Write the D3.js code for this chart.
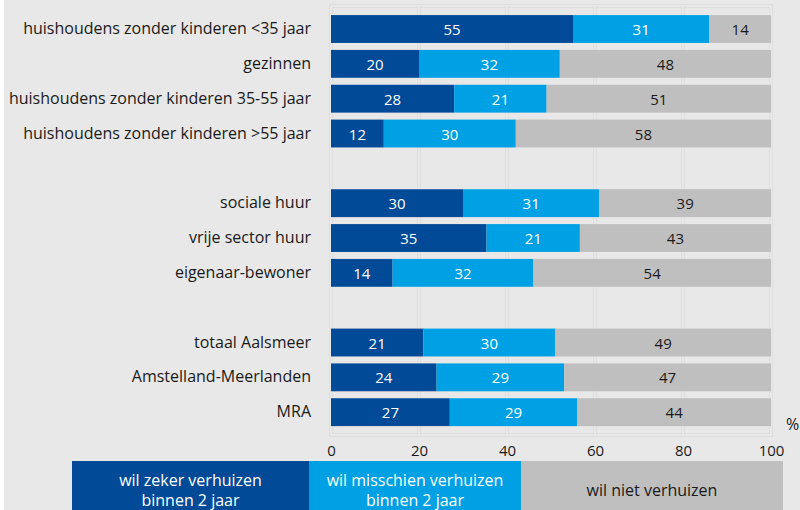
<!DOCTYPE html>
<html><head><meta charset="utf-8">
<script src="https://cdn.jsdelivr.net/npm/d3@7"></script>
<style>
html,body{margin:0;padding:0;background:#fff;}
svg{display:block;}
</style></head>
<body>
<svg id="chart" width="800" height="510"></svg>
<script>
const categories = [
  "huishoudens zonder kinderen <35 jaar",
  "gezinnen",
  "huishoudens zonder kinderen 35-55 jaar",
  "huishoudens zonder kinderen >55 jaar",
  "",
  "sociale huur",
  "vrije sector huur",
  "eigenaar-bewoner",
  " ",
  "totaal Aalsmeer",
  "Amstelland-Meerlanden",
  "MRA"
];
const zeker =     [55, 20, 28, 12, null, 30, 35, 14, null, 21, 24, 27];
const misschien = [31, 32, 21, 30, null, 31, 21, 32, null, 30, 29, 29];
const niet =      [14, 48, 51, 58, null, 39, 43, 54, null, 49, 47, 44];
const seriesNames = ["wil zeker verhuizen\nbinnen 2 jaar", "wil misschien verhuizen\nbinnen 2 jaar", "wil niet verhuizen"];
const ticks = [0, 20, 40, 60, 80, 100];
const colors = ["#004a98", "#00a1e4", "#bfbfbf"];
const textColors = ["#ffffff", "#ffffff", "#1a1a1a"];

const svg = d3.select("#chart");
const font = "'Open Sans', sans-serif";
svg.append("rect").attr("x", 4).attr("y", 0).attr("width", 796).attr("height", 510).attr("fill", "#e8e8e8");

const x = d3.scaleLinear().domain([0, 100]).range([331, 771]);
const y = d3.scaleBand().domain(categories).range([11.6, 429.6]).paddingInner(0.2).paddingOuter(0.1);
const frameTop = 6, frameBottom = 435;

// frame & gridlines
const grid = svg.append("g");
grid.append("rect").attr("x", x(0)).attr("y", frameTop).attr("width", x(100) - x(0)).attr("height", frameBottom - frameTop)
  .attr("fill", "none").attr("stroke", "#d6d6d6").attr("stroke-width", 3);
grid.append("rect").attr("x", x(0)).attr("y", frameTop).attr("width", x(100) - x(0)).attr("height", frameBottom - frameTop)
  .attr("fill", "none").attr("stroke", "#f3f3f3").attr("stroke-width", 1.2);
ticks.slice(1, -1).forEach(t => {
  grid.append("line").attr("x1", x(t)).attr("x2", x(t)).attr("y1", frameTop).attr("y2", frameBottom)
    .attr("stroke", "#d6d6d6").attr("stroke-width", 3);
  grid.append("line").attr("x1", x(t)).attr("x2", x(t)).attr("y1", frameTop).attr("y2", frameBottom)
    .attr("stroke", "#f3f3f3").attr("stroke-width", 1.2);
});

// stacked bars (100% stacked: each row normalised to its total)
const rows = categories.map((c, i) => ({cat: c, vals: [zeker[i], misschien[i], niet[i]]})).filter(r => r.vals[0] != null);
const gBars = svg.append("g");
rows.forEach(r => {
  const total = d3.sum(r.vals);
  let acc = 0;
  r.vals.forEach((v, k) => {
    const x0 = x(acc / total * 100), x1 = x((acc + v) / total * 100);
    gBars.append("rect").attr("x", x0).attr("y", y(r.cat)).attr("width", x1 - x0).attr("height", y.bandwidth())
      .attr("fill", colors[k]);
    gBars.append("text").attr("x", (x0 + x1) / 2).attr("y", y(r.cat) + y.bandwidth() / 2)
      .attr("text-anchor", "middle").attr("dominant-baseline", "central")
      .attr("font-family", font).attr("font-size", 15).attr("fill", textColors[k]).text(v);
    acc += v;
  });
});

// category labels
const yAxis = d3.axisLeft(y).tickSize(0).tickPadding(0);
const ga = svg.append("g").attr("transform", `translate(311,0)`).call(yAxis);
ga.select(".domain").remove();
ga.selectAll("text").attr("font-family", font).attr("font-size", 16).attr("fill", "#1a1a1a");

// x axis
const xAxis = d3.axisBottom(x).tickValues(ticks).tickSize(0).tickPadding(0);
const gx = svg.append("g").attr("transform", `translate(0,450)`).call(xAxis);
gx.select(".domain").remove();
gx.selectAll("text").attr("font-family", font).attr("font-size", 15).attr("fill", "#1a1a1a").attr("dy", null).attr("y", 0).attr("dominant-baseline", "central");
svg.append("text").attr("x", 786).attr("y", 424).attr("dominant-baseline", "central").attr("font-family", font).attr("font-size", 16).attr("fill", "#1a1a1a").text("%");

// legend
const legendX = [72, 309, 521, 783];
const gl = svg.append("g");
seriesNames.forEach((n, k) => {
  gl.append("rect").attr("x", legendX[k]).attr("y", 461).attr("width", legendX[k + 1] - legendX[k]).attr("height", 49).attr("fill", colors[k]);
  const lines = n.split("\n");
  const cx = (legendX[k] + legendX[k + 1]) / 2;
  const cy = 490;
  lines.forEach((ln, j) => {
    gl.append("text").attr("x", cx).attr("y", cy + (j - (lines.length - 1) / 2) * 20)
      .attr("text-anchor", "middle").attr("dominant-baseline", "central")
      .attr("font-family", font).attr("font-size", 16).attr("fill", textColors[k]).text(ln);
  });
});
</script>
</body></html>
